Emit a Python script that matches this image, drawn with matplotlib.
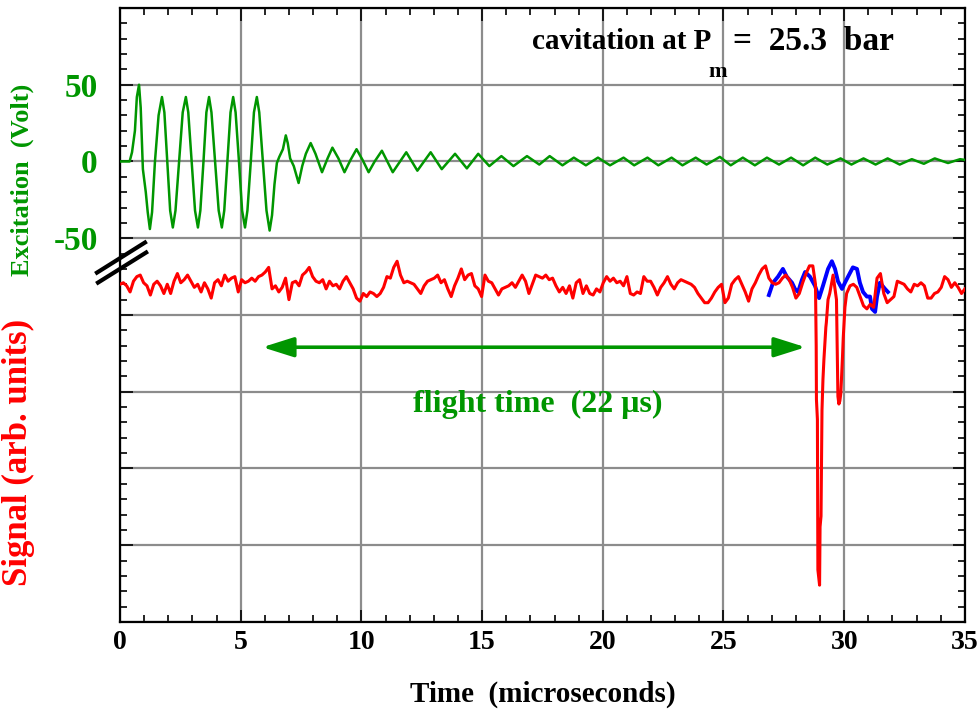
import numpy as np
import matplotlib
matplotlib.use("Agg")
import matplotlib.pyplot as plt
from matplotlib.ticker import MultipleLocator, FuncFormatter
import matplotlib.transforms as mtransforms

plt.rcParams['font.family'] = ['Liberation Serif', 'DejaVu Serif']
plt.rcParams['font.weight'] = 'bold'

# excitation (green), volts vs microseconds
green_t = [0, 0.4, 0.5, 0.62, 0.7, 0.79, 0.86, 0.95, 1.07, 1.15,
           1.24, 1.33, 1.45, 1.6, 1.74, 1.84, 1.96, 2.08, 2.19, 2.3,
           2.45, 2.6, 2.73, 2.83, 2.97, 3.11, 3.23, 3.33, 3.46, 3.58,
           3.69, 3.79, 3.94, 4.09, 4.22, 4.32, 4.45, 4.58, 4.69, 4.79,
           4.93, 5.06, 5.18, 5.28, 5.42, 5.55, 5.67, 5.77, 5.92, 6.07,
           6.2, 6.3, 6.4, 6.5, 6.6, 6.75, 6.87, 6.95, 7.05, 7.2,
           7.4, 7.55, 7.7, 7.9, 8.1, 8.37, 8.6, 8.8, 9.05, 9.3,
           9.55, 9.8, 10.05, 10.3, 10.55, 10.85, 11.3, 11.86, 12.32, 12.87,
           13.33, 13.88, 14.37, 14.84, 15.3, 15.8, 16.3, 16.86, 17.37, 17.8,
           18.33, 18.8, 19.3, 19.8, 20.3, 20.86, 21.3, 21.85, 22.3, 22.85,
           23.3, 23.85, 24.3, 24.85, 25.3, 25.8, 26.3, 26.8, 27.3, 27.8,
           28.3, 28.8, 29.3, 29.85, 30.3, 30.8, 31.3, 31.8, 32.3, 32.8,
           33.3, 33.75, 34.3, 34.8, 35]
green_v = [0, 0, 6, 20, 42, 50, 35, -5, -20, -33,
           -44, -33, 0, 30, 42, 32, 0, -32, -43, -32,
           0, 32, 42, 32, 0, -32, -43, -32, 0, 32,
           42, 32, 0, -32, -43, -32, 0, 32, 42, 32,
           0, -32, -43, -32, 0, 32, 42, 32, 0, -32,
           -45, -35, -15, -1, 3, 8, 17, 12, 2, -3,
           -14, -3, 5, 12, 5, -7, 2, 9, 2, -7,
           1, 8, 1, -7, 0, 7, -7, 6, -6, 6,
           -5, 5, -4.5, 5, -3, 3.5, -3, 3.5, -2, 3.5,
           -2.5, 2.5, -2.5, 2.5, -2.5, 2.5, -2.5, 2.5, -2.5, 2.5,
           -2.5, 2.5, -2, 3, -2.5, 2.5, -2.5, 2.5, -2, 2.5,
           -2.5, 2.5, -2, 2, -2, 2, -2, 2, -2, 1.5,
           -1.5, 2, -1, 1.5, 1]

# signal (red), sampled every 0.14 us, plotted on the same vertical scale
red_dt = 0.14
red_v = [-80, -79, -81, -85, -78, -75, -74, -79, -81, -87, -80, -78, -81, -86, -80, -86, -78,
         -73, -79, -77, -74, -78, -82, -80, -85, -79, -83, -89, -79, -77, -81, -74, -78, -76,
         -75, -85, -77, -79, -78, -76, -78, -75, -74, -72, -69, -83, -81, -85, -82, -76, -90,
         -79, -78, -81, -74, -72, -69, -75, -78, -79, -77, -83, -78, -81, -80, -83, -78, -75,
         -79, -83, -89, -91, -86, -88, -85, -86, -88, -86, -82, -75, -76, -69, -65, -74, -79,
         -78, -79, -80, -83, -86, -81, -78, -77, -76, -74, -79, -77, -83, -88, -81, -76,
         -70, -77, -74, -73, -81, -83, -88, -74, -78, -79, -83, -87, -83, -82, -81, -79, -82,
         -78, -74, -78, -86, -80, -74, -75, -76, -74, -77, -76, -81, -85, -82, -86, -81, -89,
         -79, -77, -86, -81, -86, -87, -83, -85, -79, -75, -78, -76, -79, -78, -81, -75,
         -86, -87, -85, -86, -75, -78, -78, -82, -87, -82, -79, -75, -80, -83, -79, -77, -78,
         -79, -80, -82, -86, -89, -92, -92, -89, -85, -82, -80, -92, -89, -80, -77, -75, -80,
         -85, -91, -83, -79, -74, -70, -68, -76, -79, -80, -79, -76, -74, -77, -82, -89,
         -86, -79, -73, -68, -68, -120, -276, -142, -105, -86, -74, -90, -156, -115, -86, -81,
         -80, -82, -88, -94, -96, -93, -95, -76, -73, -86, -92, -90, -88, -78, -79, -80, -83,
         -85, -80, -81, -79, -81, -89, -89, -86, -85, -82, -75, -77, -82, -79, -82, -86, -83]

# extra points inside the two cavitation dips
dip_t = [28.81, 28.85, 28.89, 28.91, 28.98, 29.0, 29.04, 29.08, 29.16, 29.24, 29.33,
         29.74, 29.78, 29.86, 29.93, 30.03]
dip_v = [-80, -155, -168, -266, -276, -238, -231, -162, -129, -108, -90,
         -153, -158, -151, -127, -95]

# second shot (blue)
blue_t = [26.88, 27.05, 27.26, 27.46, 27.62, 27.84, 27.96, 28.09, 28.25, 28.38, 28.58,
          28.79, 28.96, 29.12, 29.33, 29.49, 29.62, 29.74, 29.91, 30.03, 30.16, 30.36,
          30.53, 30.65, 30.78, 30.94, 31.07, 31.15, 31.28, 31.36, 31.48, 31.69, 31.81]
blue_v = [-87, -79, -75, -70, -75, -79, -83, -85, -77, -72, -75,
          -81, -89, -81, -70, -65, -70, -78, -83, -79, -75, -69,
          -70, -79, -85, -88, -88, -96, -98, -88, -79, -83, -85]

green = '#009600'

red_t = np.arange(len(red_v)) * red_dt
all_t = np.concatenate([red_t, dip_t])
all_v = np.concatenate([red_v, dip_v])
order = np.argsort(all_t, kind='stable')
all_t = all_t[order]
all_v = all_v[order]

fig = plt.figure(figsize=(9.8, 7.18), dpi=100)
ax = fig.add_axes([0.1224, 0.1337, 0.8622, 0.8552])

ax.plot(blue_t, blue_v, color='#0000ff', lw=2.8, zorder=3)
ax.plot(all_t, all_v, color='#ff0000', lw=2.2, zorder=4)
ax.plot(green_t, green_v, color=green, lw=1.8, zorder=4)

ax.set_xlim(0, 35)
ax.set_ylim(-300, 100)

ax.xaxis.set_major_locator(MultipleLocator(5))
ax.xaxis.set_minor_locator(MultipleLocator(1))
ax.yaxis.set_major_locator(MultipleLocator(50))
ax.yaxis.set_minor_locator(MultipleLocator(10))
ax.yaxis.set_major_formatter(FuncFormatter(
    lambda v, p: '%d' % v if -60 < v < 60 else ''))

ax.grid(True, which='major', color='#8c8c8c', lw=1.6)
ax.set_axisbelow(True)
for s in ax.spines.values():
    s.set_linewidth(1.6)

ax.tick_params(which='both', direction='in', top=True, right=True, width=1.2)
ax.tick_params(which='major', length=9)
ax.tick_params(which='minor', length=5)
ax.tick_params(axis='x', labelsize=20, pad=6)
ax.tick_params(axis='y', labelsize=24, pad=16, labelcolor=green)

ax.set_xlabel('Time  (microseconds)', fontsize=21, fontweight='bold', labelpad=18)

fig.text(0.023, 0.749, 'Excitation  (Volt)', rotation=90, color=green,
         fontsize=19, ha='center', va='center')
fig.text(0.019, 0.37, 'Signal (arb. units)', rotation=90, color='#ff0000',
         fontsize=25, ha='center', va='center')

# axis break marks on the left spine
trans = mtransforms.blended_transform_factory(ax.transAxes, ax.transData)
ax.plot([-0.0272, 0.0296], [-72.4, -52.8], color='black', lw=3, transform=trans,
        clip_on=False, zorder=5)
ax.plot([-0.026, 0.031], [-78.9, -59.3], color='black', lw=3, transform=trans,
        clip_on=False, zorder=5)

# flight time arrow
ax.annotate('', xy=(28.4, -121), xytext=(5.9, -121),
            arrowprops=dict(arrowstyle='<|-|>,head_length=1.9,head_width=0.6',
                            lw=2.6, color=green, shrinkA=0, shrinkB=0))
ax.text(17.3, -158, 'flight time  (22 \u03bcs)', color=green, fontsize=23,
        ha='center', va='center')

# pressure note, P with a low subscript m
ax.text(24.5, 78, 'cavitation at P', fontsize=21, ha='right', va='center')
ax.text(24.75, 58, 'm', fontsize=16, ha='center', va='center')
ax.text(25.4, 78, '=  25.3  bar', fontsize=24, ha='left', va='center')

fig.savefig('out.png', dpi=100)
